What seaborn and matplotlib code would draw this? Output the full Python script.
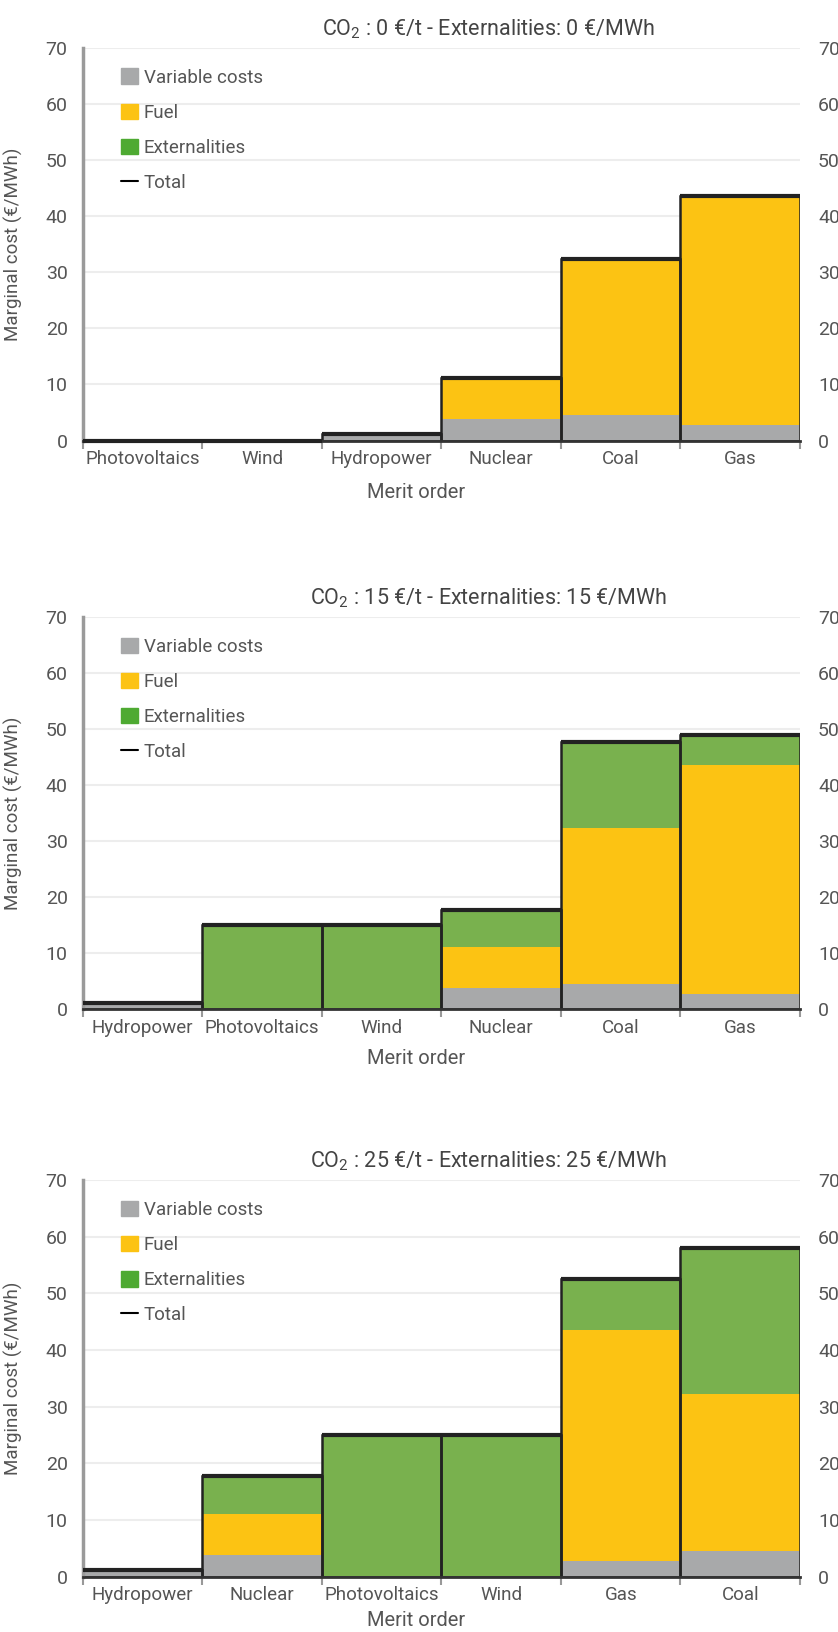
import numpy as np
import pandas as pd
import matplotlib
matplotlib.use('Agg')
import matplotlib.pyplot as plt
import seaborn as sns
from matplotlib.patches import Patch
from matplotlib.lines import Line2D

# Data
techs = ['Photovoltaics', 'Wind', 'Hydropower', 'Nuclear', 'Coal', 'Gas']
variable_costs = [0, 0, 1.2, 3.8, 4.5, 2.8]
fuel_costs = [0, 0, 0, 7.3, 27.8, 40.7]

co2_prices = [0, 15, 25]
externalities_0 = [0, 0, 0, 0, 0, 0]
externalities_15 = [15, 15, 0, 6.7, 15.3, 5.4]
externalities_25 = [25, 25, 0, 6.6, 25.7, 9.0]

order_0 = ['Photovoltaics', 'Wind', 'Hydropower', 'Nuclear', 'Coal', 'Gas']
order_15 = ['Hydropower', 'Photovoltaics', 'Wind', 'Nuclear', 'Coal', 'Gas']
order_25 = ['Hydropower', 'Nuclear', 'Photovoltaics', 'Wind', 'Gas', 'Coal']

y_ticks = [0, 10, 20, 30, 40, 50, 60, 70]
legend_labels = ['Variable costs', 'Fuel', 'Externalities', 'Total']

# Colours
GREY = '#a8a9aa'
YELLOW = '#fcc313'
GREEN = '#79b14e'
GREEN_LEG = '#4eaa32'
EDGE = '#222222'
TEXT = '#555555'

sns.set_theme(style='white')
plt.rcParams['font.family'] = ['Roboto', 'DejaVu Sans']

fig = plt.figure(figsize=(8.38, 16.32), dpi=100)

# (co2, externalities, order, axes bottom, axes height, xlabel offset)
panels = [
    (co2_prices[0], externalities_0, order_0, 0.7300, 0.2408, -0.108),
    (co2_prices[1], externalities_15, order_15, 0.3815, 0.2406, -0.102),
    (co2_prices[2], externalities_25, order_25, 0.0339, 0.2431, -0.086),
]

for co2, ext, order, bottom, height, xl in panels:
    df = pd.DataFrame({'tech': techs, 'var': variable_costs, 'fuel': fuel_costs, 'ext': ext})
    df['fuel_top'] = df['var'] + df['fuel']
    df['total'] = df['fuel_top'] + df['ext']

    ax = fig.add_axes([0.099, bottom, 0.8556, height])
    ax.set_axisbelow(True)
    ax.yaxis.grid(True, color='#ededed', lw=1.5)

    # stacked layers drawn on top of each other
    sns.barplot(data=df, x='tech', y='total', order=order, color=GREEN, width=1,
                saturation=1, linewidth=0, errorbar=None, ax=ax)
    sns.barplot(data=df, x='tech', y='fuel_top', order=order, color=YELLOW, width=1,
                saturation=1, linewidth=0, errorbar=None, ax=ax)
    sns.barplot(data=df, x='tech', y='var', order=order, color=GREY, width=1,
                saturation=1, linewidth=0, errorbar=None, ax=ax)
    sns.barplot(data=df, x='tech', y='total', order=order, color=EDGE, width=1,
                fill=False, linewidth=1.8, errorbar=None, ax=ax)

    # total line on top of each bar
    tot = df.set_index('tech').loc[order, 'total'].values
    pos = np.arange(len(order))
    ax.hlines(tot, pos - 0.5, pos + 0.5, color=EDGE, lw=3, zorder=6, clip_on=False)

    ax.set_xlim(-0.5, len(order) - 0.5)
    ax.set_ylim(0, 70)
    ax.set_yticks(y_ticks)
    ax.set_xticks(pos)
    ax.set_xticklabels(order)
    ax.set_xticks(np.arange(-0.5, len(order), 1), minor=True)
    ax.tick_params(axis='x', which='major', length=0, pad=7, labelsize=13.5, labelcolor=TEXT)
    ax.tick_params(axis='x', which='minor', bottom=True, length=6, width=1.5, color='#999999')
    ax.tick_params(axis='y', length=0, pad=11, labelsize=14, labelcolor=TEXT)

    for s in ['top', 'right']:
        ax.spines[s].set_visible(False)
    ax.spines['left'].set_color('#9a9a9a')
    ax.spines['left'].set_linewidth(2.5)
    ax.spines['bottom'].set_color('#333333')
    ax.spines['bottom'].set_linewidth(2)

    ax.set_xlabel('Merit order', fontsize=14.5, color=TEXT)
    ax.xaxis.set_label_coords(0.464, xl)
    ax.set_ylabel('Marginal cost (€/MWh)', fontsize=13.5, color=TEXT)
    ax.yaxis.set_label_coords(-0.083, 0.5)
    ax.set_title(f'CO$_{{\\mathregular{{2}}}}$ : {co2} €/t - Externalities: {co2} €/MWh',
                 x=0.565, pad=9, fontsize=15.5, color='#444444')

    # right-hand duplicate axis
    ax2 = ax.twinx()
    ax2.set_ylim(0, 70)
    ax2.set_yticks(y_ticks)
    ax2.tick_params(axis='y', length=0, pad=13, labelsize=14, labelcolor=TEXT)
    for s in ax2.spines.values():
        s.set_visible(False)
    ax2.grid(False)

    handles = [Patch(color=GREY), Patch(color=YELLOW), Patch(color=GREEN_LEG),
               Line2D([], [], color='black', lw=1.5)]
    ax.legend(handles, legend_labels, loc='upper left', bbox_to_anchor=(0.03, 0.99),
              frameon=False, fontsize=13.5, handlelength=0.9, handleheight=0.9,
              handletextpad=0.3, labelspacing=0.9, labelcolor=TEXT)

fig.savefig('out.png', dpi=100)
